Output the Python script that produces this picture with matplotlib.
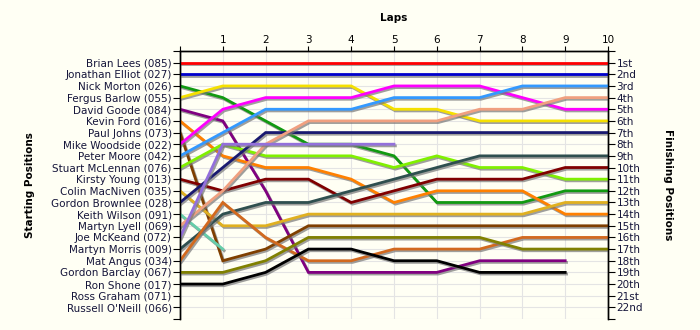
"""
Race position chart: starting grid on the left, finishing order on the
right, one line per driver showing position after each lap.
"""

import matplotlib
matplotlib.use("Agg")
import matplotlib.pyplot as plt
import matplotlib.patheffects as pe

BG = "#FFFFF4"

START_LABELS = [
    "Brian Lees (085)", "Jonathan Elliot (027)", "Nick Morton (026)",
    "Fergus Barlow (055)", "David Goode (084)", "Kevin Ford (016)",
    "Paul Johns (073)", "Mike Woodside (022)", "Peter Moore (042)",
    "Stuart McLennan (076)", "Kirsty Young (013)", "Colin MacNiven (035)",
    "Gordon Brownlee (028)", "Keith Wilson (091)", "Martyn Lyell (069)",
    "Joe McKeand (072)", "Martyn Morris (009)", "Mat Angus (034)",
    "Gordon Barclay (067)", "Ron Shone (017)", "Ross Graham (071)",
    "Russell O'Neill (066)",
]
FINISH_LABELS = [
    "1st", "2nd", "3rd", "4th", "5th", "6th", "7th", "8th", "9th", "10th",
    "11th", "12th", "13th", "14th", "15th", "16th", "17th", "18th", "19th",
    "20th", "21st", "22nd",
]
LAPS = list(range(11))

# position after each lap (lap 0 = grid); shorter lists = retired
red_pos = [1, 1, 1, 1, 1, 1, 1, 1, 1, 1, 1]
blue_pos = [2, 2, 2, 2, 2, 2, 2, 2, 2, 2, 2]
green_pos = [3, 4, 6, 8, 8, 9, 13, 13, 13, 12, 12]
yellow_pos = [4, 3, 3, 3, 3, 5, 5, 6, 6, 6, 6]
purple_pos = [5, 6, 12, 19, 19, 19, 19, 18, 18, 18]
orange_pos = [6, 9, 10, 10, 11, 13, 12, 12, 12, 14, 14]
brown_pos = [7, 18, 17, 15, 15, 15, 15, 15, 15, 15, 15]
magenta_pos = [8, 5, 4, 4, 4, 3, 3, 3, 4, 5, 5]
sky_pos = [9, 7, 5, 5, 5, 4, 4, 4, 3, 3, 3]
lime_pos = [10, 8, 9, 9, 9, 10, 9, 10, 10, 11, 11]
maroon_pos = [11, 12, 11, 11, 13, 12, 11, 11, 11, 10, 10]
gold_pos = [12, 15, 15, 14, 14, 14, 14, 14, 14, 13, 13]
navy_pos = [13, 10, 7, 7, 7, 7, 7, 7, 7, 7, 7]
aqua_pos = [14, 17]
salmon_pos = [15, 12, 8, 6, 6, 6, 6, 5, 5, 4, 4]
lavender_pos = [16, 8, 8, 8, 8, 8]
slate_pos = [17, 14, 13, 13, 12, 11, 10, 9, 9, 9, 9]
choc_pos = [18, 13, 16, 18, 18, 17, 17, 17, 16, 16, 16]
olive_pos = [19, 19, 18, 16, 16, 16, 16, 16, 17, 17, 17]
black_pos = [20, 20, 19, 17, 17, 18, 18, 19, 19, 19]

SERIES = [red_pos, blue_pos, green_pos, yellow_pos, purple_pos, orange_pos,
          brown_pos, magenta_pos, sky_pos, lime_pos, maroon_pos, gold_pos,
          navy_pos, aqua_pos, salmon_pos, lavender_pos, slate_pos, choc_pos,
          olive_pos, black_pos]
COLORS = ["#FF0000", "#0000CC", "#119911", "#F5E000", "#800080", "#FF8000",
          "#7F3F00", "#FF00FF", "#3399FF", "#80F000", "#800000", "#E0B020",
          "#191970", "#66CDAA", "#F0A080", "#9370DB", "#2F4F4F", "#D2691E",
          "#808000", "#000000"]

plt.rcParams["font.family"] = "DejaVu Sans"

fig = plt.figure(figsize=(7.0, 3.3), dpi=100, facecolor=BG)
ax = fig.add_axes([180 / 700, 1 - 319 / 330, 428 / 700, 268 / 330])
ax.set_facecolor(BG)

shadow = [pe.SimpleLineShadow(offset=(1, -1.2), shadow_color="#777",
                              alpha=0.7), pe.Normal()]
for pos, col in zip(SERIES, COLORS):
    ax.plot(LAPS[:len(pos)], pos, color=col, linewidth=2.0,
            solid_joinstyle="miter", path_effects=shadow, zorder=3)

n = len(START_LABELS)
ax.set_xlim(0, 10)
ax.set_ylim(n + 1, 0)

# grid
for x in LAPS:
    ax.axvline(x, color="#E4E4E4", linewidth=0.8, zorder=1)
for y in range(n + 2):
    ax.axhline(y, color="#E4E4E4", linewidth=0.8, zorder=1)

# top axis: laps
ax.xaxis.tick_top()
ax.set_xticks(LAPS)
ax.set_xticklabels([""] + [str(i) for i in LAPS[1:]])
ax.tick_params(axis="x", direction="out", length=3.5, pad=1, labelsize=7.5,
               colors="#000")
ax.set_xlabel("Laps", fontsize=7.5, fontweight="bold", labelpad=10)
ax.xaxis.set_label_position("top")

# left axis: grid order
yt = list(range(n + 2))
ax.set_yticks(yt)
ax.set_yticklabels([""] + START_LABELS + [""])
ax.tick_params(axis="y", direction="out", length=5, pad=1, labelsize=7.5,
               labelcolor="#15153A")

# right axis: finishing order
ax2 = ax.twinx()
ax2.set_ylim(n + 1, 0)
ax2.set_yticks(yt)
ax2.set_yticklabels([""] + FINISH_LABELS + [""])
ax2.tick_params(axis="y", direction="out", length=5, pad=1, labelsize=7.5,
                labelcolor="#15153A")

for a in (ax, ax2):
    a.spines["bottom"].set_visible(False)
    for s in ("left", "right", "top"):
        a.spines[s].set_linewidth(1.0)
        a.spines[s].set_color("#000")

fig.text(30 / 700, 1 - 185 / 330, "Starting Positions", rotation=90,
         ha="center", va="center", fontsize=7.5, fontweight="bold")
fig.text(668 / 700, 1 - 185 / 330, "Finishing Positions", rotation=270,
         ha="center", va="center", fontsize=7.5, fontweight="bold")

fig.savefig("out.png", dpi=100, facecolor=BG)
